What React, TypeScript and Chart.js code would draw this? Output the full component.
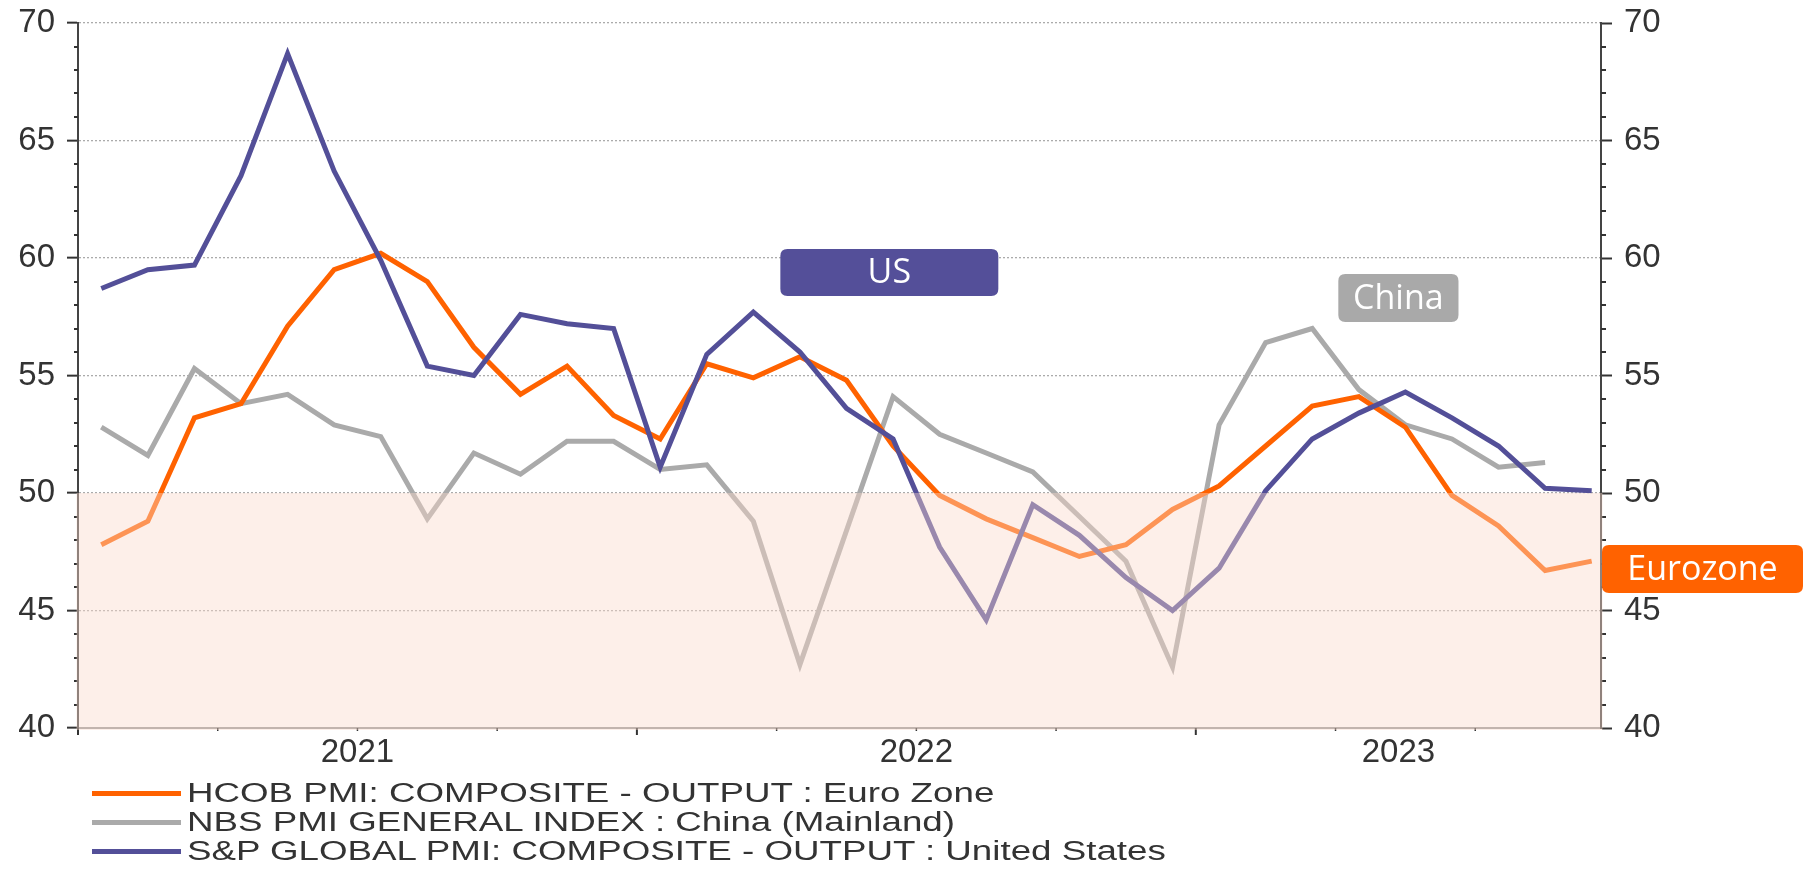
import React, { useEffect, useRef } from "react";
import { Chart, registerables } from "chart.js";

Chart.register(...registerables);

// Monthly observations, Jan 2021 .. Sep 2023
const months = [
  "Jan 2021", "Feb 2021", "Mar 2021", "Apr 2021", "May 2021", "Jun 2021",
  "Jul 2021", "Aug 2021", "Sep 2021", "Oct 2021", "Nov 2021", "Dec 2021",
  "Jan 2022", "Feb 2022", "Mar 2022", "Apr 2022", "May 2022", "Jun 2022",
  "Jul 2022", "Aug 2022", "Sep 2022", "Oct 2022", "Nov 2022", "Dec 2022",
  "Jan 2023", "Feb 2023", "Mar 2023", "Apr 2023", "May 2023", "Jun 2023",
  "Jul 2023", "Aug 2023", "Sep 2023",
];

const euroZone = [
  47.8, 48.8, 53.2, 53.8, 57.1, 59.5, 60.2, 59.0, 56.2, 54.2, 55.4, 53.3,
  52.3, 55.5, 54.9, 55.8, 54.8, 52.0, 49.9, 48.9, 48.1, 47.3, 47.8, 49.3,
  50.3, 52.0, 53.7, 54.1, 52.8, 49.9, 48.6, 46.7, 47.1,
];

const china = [
  52.8, 51.6, 55.3, 53.8, 54.2, 52.9, 52.4, 48.9, 51.7, 50.8, 52.2, 52.2,
  51.0, 51.2, 48.8, 42.7, 48.4, 54.1, 52.5, 51.7, 50.9, 49.0, 47.1, 42.6,
  52.9, 56.4, 57.0, 54.4, 52.9, 52.3, 51.1, 51.3, null,
];

const unitedStates = [
  58.7, 59.5, 59.7, 63.5, 68.7, 63.7, 59.9, 55.4, 55.0, 57.6, 57.2, 57.0,
  51.1, 55.9, 57.7, 56.0, 53.6, 52.3, 47.7, 44.6, 49.5, 48.2, 46.4, 45.0,
  46.8, 50.1, 52.3, 53.4, 54.3, 53.2, 52.0, 50.2, 50.1,
];

const seriesNames = [
  "HCOB PMI: COMPOSITE - OUTPUT : Euro Zone",
  "NBS PMI GENERAL INDEX : China (Mainland)",
  "S&P GLOBAL PMI: COMPOSITE - OUTPUT : United States",
];

const yearLabels = ["2021", "2022", "2023"];
const yearLabelIndex = [5.5, 17.5, 27.85];
const yearBoundaryIndex = [-0.5, 11.5, 23.5];
const quarterIndex = [2.5, 5.5, 8.5, 14.5, 17.5, 20.5, 26.5, 29.5];

const yMin = 40;
const yMax = 70;
const shadeFrom = 40;
const shadeTo = 50;

const ORANGE = "#FF6200";
const GREY = "#AAAAAA";
const PURPLE = "#534F98";
const TEXT = "#333333";

// Text boxes (in data units of the chart)
const calloutBoxes = [
  { text: "US", fill: "#544F99", x0: 14.58, x1: 19.26, v0: 60.38, v1: 58.38 },
  { text: "China", fill: "#A9A9A9", x0: 26.56, x1: 29.14, v0: 59.32, v1: 57.28 },
];
const euroBox = { text: "Eurozone", fill: "#FF6200", v0: 47.79, v1: 45.74 };

function roundRect(ctx: CanvasRenderingContext2D, x: number, y: number, w: number, h: number, r: number) {
  ctx.beginPath();
  ctx.moveTo(x + r, y);
  ctx.lineTo(x + w - r, y);
  ctx.quadraticCurveTo(x + w, y, x + w, y + r);
  ctx.lineTo(x + w, y + h - r);
  ctx.quadraticCurveTo(x + w, y + h, x + w - r, y + h);
  ctx.lineTo(x + r, y + h);
  ctx.quadraticCurveTo(x, y + h, x, y + h - r);
  ctx.lineTo(x, y + r);
  ctx.quadraticCurveTo(x, y, x + r, y);
  ctx.closePath();
}

const decorPlugin = {
  id: "decor",
  afterDatasetsDraw(chart: any) {
    const { ctx, chartArea, scales } = chart;
    const xs = scales.x;
    const ys = scales.y;
    ctx.save();
    // minor y ticks
    ctx.strokeStyle = TEXT;
    ctx.lineWidth = 2;
    for (let v = yMin; v <= yMax; v++) {
      if (v % 5 === 0) continue;
      const py = Math.round(ys.getPixelForValue(v));
      ctx.beginPath();
      ctx.moveTo(chartArea.left - 4, py);
      ctx.lineTo(chartArea.left, py);
      ctx.stroke();
      ctx.beginPath();
      ctx.moveTo(chartArea.right, py);
      ctx.lineTo(chartArea.right + 5, py);
      ctx.stroke();
    }
    // x ticks
    ctx.lineWidth = 2;
    for (const q of yearBoundaryIndex) {
      const px = xs.getPixelForValue(q);
      ctx.beginPath();
      ctx.moveTo(px, chartArea.bottom);
      ctx.lineTo(px, chartArea.bottom + 7);
      ctx.stroke();
    }
    ctx.lineWidth = 1.5;
    for (const q of quarterIndex) {
      const px = xs.getPixelForValue(q);
      ctx.beginPath();
      ctx.moveTo(px, chartArea.bottom);
      ctx.lineTo(px, chartArea.bottom + 3);
      ctx.stroke();
    }
    // shaded zone below 50
    const top = ys.getPixelForValue(shadeTo);
    const bottom = ys.getPixelForValue(shadeFrom);
    ctx.fillStyle = "rgba(250,218,203,0.42)";
    ctx.fillRect(chartArea.left - 1.5, top, chartArea.right - chartArea.left + 3, bottom - top + 2);
    ctx.restore();
  },
  afterDraw(chart: any) {
    const { ctx, chartArea, scales } = chart;
    const xs = scales.x;
    const ys = scales.y;
    ctx.save();
    ctx.font = "34px 'Open Sans'";
    ctx.textAlign = "center";
    ctx.textBaseline = "middle";
    for (const b of calloutBoxes) {
      const x0 = xs.getPixelForValue(b.x0);
      const x1 = xs.getPixelForValue(b.x1);
      const y0 = ys.getPixelForValue(b.v0);
      const y1 = ys.getPixelForValue(b.v1);
      ctx.fillStyle = b.fill;
      roundRect(ctx, x0, y0, x1 - x0, y1 - y0, 7);
      ctx.fill();
      ctx.fillStyle = "#FFFFFF";
      ctx.fillText(b.text, (x0 + x1) / 2, (y0 + y1) / 2 + 1);
    }
    const ex0 = chartArea.right + 1;
    const ex1 = chart.width - 1;
    const ey0 = ys.getPixelForValue(euroBox.v0);
    const ey1 = ys.getPixelForValue(euroBox.v1);
    ctx.fillStyle = euroBox.fill;
    roundRect(ctx, ex0, ey0, ex1 - ex0, ey1 - ey0, 7);
    ctx.fill();
    ctx.fillStyle = "#FFFFFF";
    ctx.fillText(euroBox.text, (ex0 + ex1) / 2, (ey0 + ey1) / 2 + 1);
    ctx.restore();
  },
};

export default function App() {
  const canvasRef = useRef<HTMLCanvasElement | null>(null);

  useEffect(() => {
    if (!canvasRef.current) return;
    const toPoints = (arr: (number | null)[]) => arr.map((v, i) => ({ x: i, y: v }));
    const tickFont = { family: "'Liberation Sans', Arial, sans-serif", size: 33 };
    const yAxisCommon = {
      type: "linear" as const,
      min: yMin,
      max: yMax,
      afterBuildTicks: (scale: any) => {
        const t = [];
        for (let v = yMin; v <= yMax; v++) t.push({ value: v });
        scale.ticks = t;
      },
      ticks: {
        autoSkip: false,
        color: TEXT,
        font: tickFont,
        padding: 12,
        callback: (v: any) => (Number(v) % 5 === 0 ? String(v) : ""),
      },
    };

    const chart = new Chart(canvasRef.current, {
      type: "line",
      data: {
        labels: months,
        datasets: [
          {
            label: seriesNames[0],
            data: toPoints(euroZone),
            borderColor: ORANGE,
            backgroundColor: ORANGE,
            borderWidth: 5,
            pointRadius: 0,
            tension: 0,
            order: 1,
          },
          {
            label: seriesNames[1],
            data: toPoints(china),
            borderColor: GREY,
            backgroundColor: GREY,
            borderWidth: 5,
            pointRadius: 0,
            tension: 0,
            order: 2,
          },
          {
            label: seriesNames[2],
            data: toPoints(unitedStates),
            borderColor: PURPLE,
            backgroundColor: PURPLE,
            borderWidth: 5,
            pointRadius: 0,
            tension: 0,
            order: 0,
          },
        ],
      },
      options: {
        responsive: false,
        animation: false,
        devicePixelRatio: 1,
        layout: { padding: { top: 23, left: 0, right: 0, bottom: 0 } },
        plugins: {
          legend: { display: false },
          tooltip: { enabled: false },
        },
        scales: {
          x: {
            type: "linear",
            min: -0.5,
            max: 32.2,
            afterBuildTicks: (scale: any) => {
              scale.ticks = yearLabelIndex.map((v) => ({ value: v }));
            },
            afterFit: (scale: any) => {
              scale.height = 141;
              scale.paddingLeft = 0;
              scale.paddingRight = 0;
            },
            grid: { display: false, drawTicks: false },
            border: { display: true, color: "#999999", width: 2 },
            ticks: {
              autoSkip: false,
              maxRotation: 0,
              color: TEXT,
              font: tickFont,
              padding: 5,
              callback: (v: any) => {
                const i = yearLabelIndex.indexOf(Number(v));
                return i >= 0 ? yearLabels[i] : "";
              },
            },
          },
          y: {
            ...yAxisCommon,
            position: "left",
            afterFit: (scale: any) => {
              scale.width = 78;
              scale.paddingTop = 0;
              scale.paddingBottom = 0;
            },
            grid: {
              drawOnChartArea: true,
              drawTicks: true,
              tickLength: 11,
              tickWidth: 2,
              lineWidth: 1.3,
              color: (c: any) =>
                c.tick && c.tick.value % 5 === 0 && c.tick.value !== yMin ? "#ABABAB" : "rgba(0,0,0,0)",
              tickColor: (c: any) => (c.tick && c.tick.value % 5 === 0 ? TEXT : "rgba(0,0,0,0)"),
            },
            border: { display: true, color: "#444444", width: 2, dash: [2, 2] },
          },
          y1: {
            ...yAxisCommon,
            position: "right",
            afterFit: (scale: any) => {
              scale.width = 203;
              scale.paddingTop = 0;
              scale.paddingBottom = 0;
            },
            grid: {
              drawOnChartArea: false,
              drawTicks: true,
              tickLength: 11,
              tickWidth: 2,
              tickColor: (c: any) => (c.tick && c.tick.value % 5 === 0 ? TEXT : "rgba(0,0,0,0)"),
            },
            border: { display: true, color: "#444444", width: 2 },
          },
        },
      },
      plugins: [decorPlugin],
    } as any);

    return () => chart.destroy();
  }, []);

  const legendColors = [ORANGE, GREY, PURPLE];
  const rowCenters = [793, 822, 851];

  return (
    <div style={{ position: "absolute", left: 0, top: 0, width: 1804, height: 869, background: "#fff" }}>
      <canvas ref={canvasRef} width={1804} height={869} style={{ position: "absolute", left: 0, top: 0 }} />
      {seriesNames.map((name, i) => (
        <React.Fragment key={name}>
          <div
            style={{
              position: "absolute",
              left: 92,
              top: rowCenters[i] - 2.5,
              width: 89,
              height: 5,
              background: legendColors[i],
            }}
          />
          <div
            style={{
              position: "absolute",
              left: 187,
              top: rowCenters[i] - 15,
              height: 30,
              lineHeight: "30px",
              fontFamily: "'Liberation Sans', Arial, sans-serif",
              fontSize: 27,
              color: TEXT,
              whiteSpace: "nowrap",
              transform: "scaleX(1.36)",
              transformOrigin: "left center",
            }}
          >
            {name}
          </div>
        </React.Fragment>
      ))}
    </div>
  );
}
